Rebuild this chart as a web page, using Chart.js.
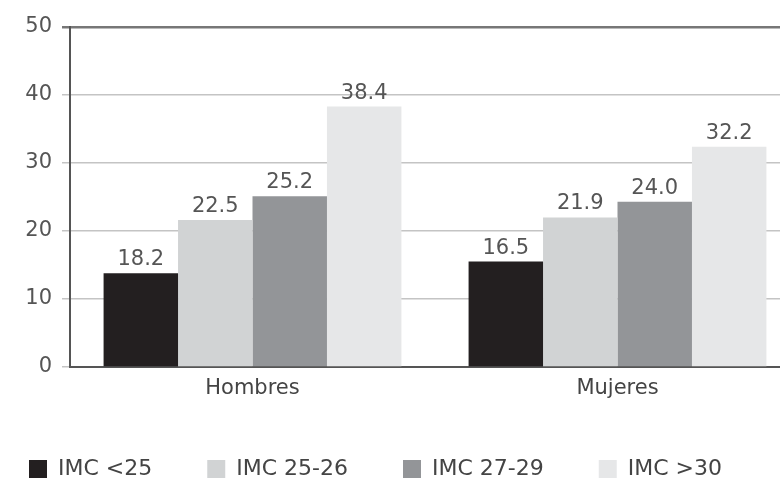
<!DOCTYPE html>
<html>
<head>
<meta charset="utf-8">
<script src="https://cdn.jsdelivr.net/npm/chart.js@4.4.0/dist/chart.umd.min.js"></script>
<style>
  html, body { margin: 0; padding: 0; background: #fff; }
  body { width: 780px; height: 482px; overflow: hidden; position: relative; }
  #chart { position: absolute; left: -49px; top: 0; }
</style>
</head>
<body>
<canvas id="chart" width="849" height="490"></canvas>
<script>
"use strict";

const categories = ["Hombres", "Mujeres"];
const seriesNames = ["IMC <25", "IMC 25-26", "IMC 27-29", "IMC >30"];

// bar heights as drawn in the picture
const imc25 = [13.8, 15.5];
const imc2526 = [21.6, 22.0];
const imc2729 = [25.1, 24.3];
const imc30 = [38.3, 32.4];

// numbers printed above the bars
const imc25Labels = ["18.2", "16.5"];
const imc2526Labels = ["22.5", "21.9"];
const imc2729Labels = ["25.2", "24.0"];
const imc30Labels = ["38.4", "32.2"];

const yTicks = [0, 10, 20, 30, 40, 50];

const colors = ["#231f20", "#d1d3d4", "#939598", "#e6e7e8"];
const fontFamily = "'DejaVu Sans', sans-serif";

const valueLabels = [imc25Labels, imc2526Labels, imc2729Labels, imc30Labels];

const barLabelPlugin = {
  id: "barLabels",
  afterDatasetsDraw(chart) {
    const ctx = chart.ctx;
    ctx.save();
    ctx.font = "21px " + fontFamily;
    ctx.fillStyle = "#555";
    ctx.textAlign = "center";
    ctx.textBaseline = "bottom";
    chart.data.datasets.forEach(function (ds, i) {
      const meta = chart.getDatasetMeta(i);
      meta.data.forEach(function (bar, j) {
        ctx.fillText(valueLabels[i][j], bar.x, bar.y - 3);
      });
    });
    ctx.restore();
  }
};

const ctx = document.getElementById("chart").getContext("2d");
const datasets = [imc25, imc2526, imc2729, imc30].map(function (vals, i) {
  return {
    label: seriesNames[i],
    data: vals,
    backgroundColor: colors[i],
    borderWidth: 0,
    categoryPercentage: 0.816,
    barPercentage: 1.0
  };
});

new Chart(ctx, {
  type: "bar",
  data: { labels: categories, datasets: datasets },
  plugins: [barLabelPlugin],
  options: {
    responsive: false,
    animation: false,
    layout: { padding: { top: 27, left: 0, right: 0, bottom: 0 } },
    plugins: {
      tooltip: { enabled: false },
      legend: {
        position: "bottom",
        labels: {
          boxWidth: 18,
          boxHeight: 18,
          padding: 55,
          color: "#444",
          font: { family: fontFamily, size: 22 }
        }
      }
    },
    scales: {
      x: {
        grid: { display: false, drawTicks: false },
        border: { display: true, color: "#555", width: 2 },
        ticks: { color: "#444", padding: 11, font: { family: fontFamily, size: 21, lineHeight: 1 } },
        afterFit(scale) { scale.height = 36; }
      },
      y: {
        min: 0,
        max: 50,
        afterBuildTicks(scale) { scale.ticks = yTicks.map(v => ({ value: v })); },
        afterFit(scale) { scale.width = 119; },
        grid: {
          color: c => (c.tick && c.tick.value === 50 ? "#777" : "#c4c4c4"),
          lineWidth: c => (c.tick && c.tick.value === 50 ? 2.5 : 1.5),
          tickLength: 8
        },
        border: { display: true, color: "#555", width: 2 },
        ticks: { color: "#555", padding: 10, font: { family: fontFamily, size: 21 } }
      }
    }
  }
});
</script>
</body>
</html>
